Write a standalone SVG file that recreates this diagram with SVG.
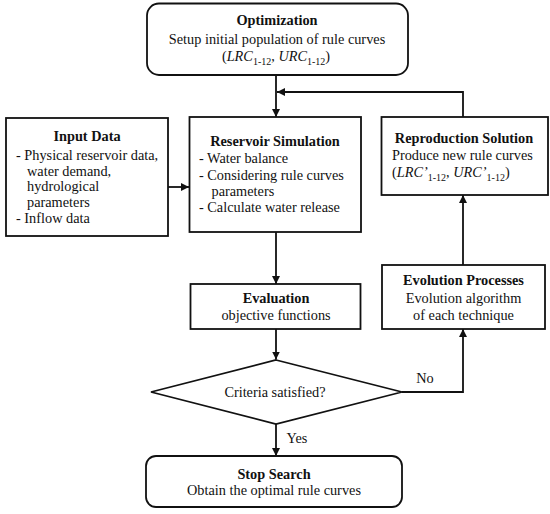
<svg xmlns="http://www.w3.org/2000/svg" width="550" height="514" viewBox="0 0 550 514">
<defs>
<marker id="ah" viewBox="0 0 10 10" refX="10" refY="5" markerWidth="8" markerHeight="8" markerUnits="userSpaceOnUse" orient="auto">
<path d="M0,0 L10,5 L0,10 z" fill="#111"/>
</marker>
<style>
.box{fill:#fff;stroke:#111;stroke-width:1.8}
.ln{fill:none;stroke:#111;stroke-width:1.8}
text{font-family:"Liberation Serif","Times New Roman",serif;font-size:14.3px;fill:#111}
.b{font-weight:bold}
.c{text-anchor:middle}
.i{font-style:italic}
.s{font-size:10px}
</style>
</defs>
<rect width="550" height="514" fill="#fff"/>
<g id="connectors">
<line class="ln" x1="276" y1="75" x2="276" y2="117" marker-end="url(#ah)"/>
<polyline class="ln" points="463,117 463,92 277,92" marker-end="url(#ah)"/>
<line class="ln" x1="168" y1="187" x2="189" y2="187" marker-end="url(#ah)"/>
<line class="ln" x1="276" y1="232" x2="276" y2="284" marker-end="url(#ah)"/>
<line class="ln" x1="276" y1="329" x2="276" y2="359.5" marker-end="url(#ah)"/>
<polyline class="ln" points="402,392 463,392 463,329" marker-end="url(#ah)"/>
<line class="ln" x1="463" y1="265" x2="463" y2="195" marker-end="url(#ah)"/>
<line class="ln" x1="276" y1="424" x2="276" y2="456" marker-end="url(#ah)"/>
<text x="425" y="383" class="c">No</text>
<text x="297" y="443" class="c">Yes</text>
</g>
<g id="optimization">
<rect class="box" x="147" y="3.5" width="261" height="71.5" rx="12"/>
<text x="277" y="25" class="c b">Optimization</text>
<text x="277" y="43.5" class="c">Setup initial population of rule curves</text>
<text x="276" y="61" class="c">(<tspan class="i">LRC</tspan><tspan class="s" dy="4">1-12</tspan><tspan dy="-4">, </tspan><tspan class="i">URC</tspan><tspan class="s" dy="4">1-12</tspan><tspan dy="-4">)</tspan></text>
</g>
<g id="input-data">
<rect class="box" x="6" y="118" width="162" height="118"/>
<text x="87" y="141" class="c b">Input Data</text>
<text x="16" y="160">- Physical reservoir data,</text>
<text x="27" y="175.5">water demand,</text>
<text x="27" y="191">hydrological</text>
<text x="27" y="207">parameters</text>
<text x="16" y="223">- Inflow data</text>
</g>
<g id="reservoir-simulation">
<rect class="box" x="189.5" y="117" width="171.5" height="115"/>
<text x="275" y="146" class="c b">Reservoir Simulation</text>
<text x="199" y="163">- Water balance</text>
<text x="199" y="179.5">- Considering rule curves</text>
<text x="211.5" y="196">parameters</text>
<text x="199" y="212">- Calculate water release</text>
</g>
<g id="reproduction-solution">
<rect class="box" x="381.5" y="117" width="166.5" height="78"/>
<text x="464" y="143" class="c b">Reproduction Solution</text>
<text x="392" y="160">Produce new rule curves</text>
<text x="392" y="177">(<tspan class="i">LRC’</tspan><tspan class="s" dy="4">1-12</tspan><tspan dy="-4">, </tspan><tspan class="i">URC’</tspan><tspan class="s" dy="4">1-12</tspan><tspan dy="-4">)</tspan></text>
</g>
<g id="evaluation">
<rect class="box" x="190.5" y="284" width="170" height="45"/>
<text x="276" y="303" class="c b">Evaluation</text>
<text x="276" y="320" class="c">objective functions</text>
</g>
<g id="evolution-processes">
<rect class="box" x="382" y="265" width="163" height="64"/>
<text x="463.5" y="285" class="c b">Evolution Processes</text>
<text x="463.5" y="303" class="c">Evolution algorithm</text>
<text x="463.5" y="320" class="c">of each technique</text>
</g>
<g id="criteria">
<polygon class="box" points="276,360 402,392 276,424 151,392"/>
<text x="275" y="397" class="c">Criteria satisfied?</text>
</g>
<g id="stop-search">
<rect class="box" x="146" y="456" width="256" height="51" rx="10"/>
<text x="274" y="479" class="c b">Stop Search</text>
<text x="274" y="495" class="c">Obtain the optimal rule curves</text>
</g>
</svg>
